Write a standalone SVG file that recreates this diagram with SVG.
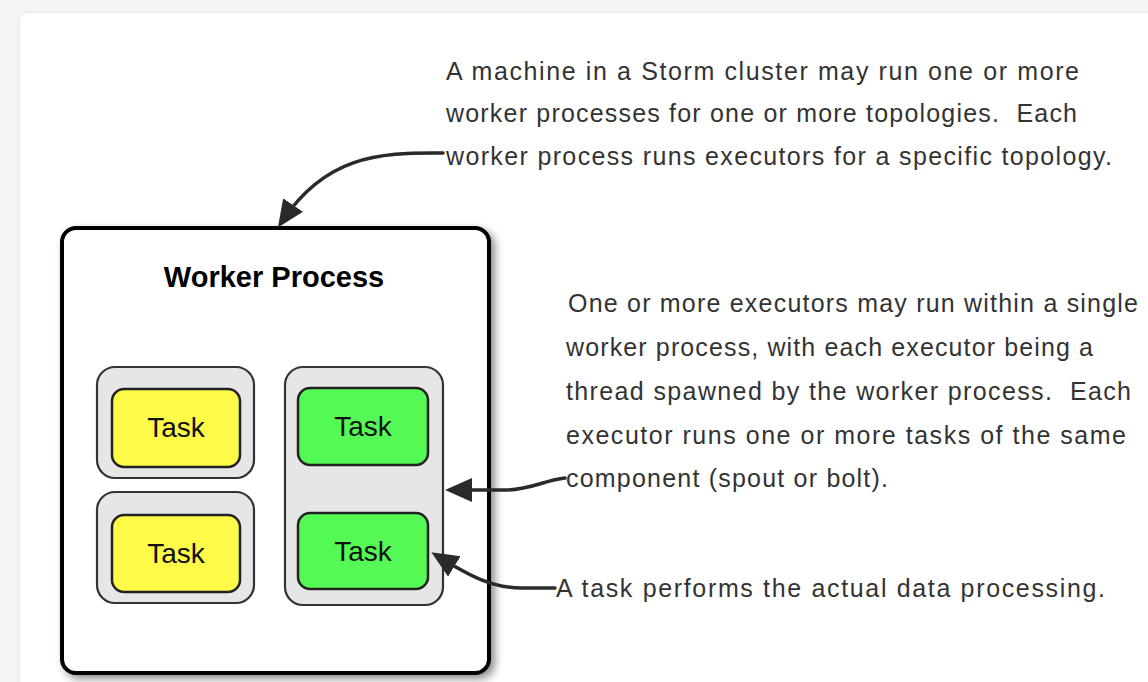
<svg xmlns="http://www.w3.org/2000/svg" width="1148" height="682" viewBox="0 0 1148 682">
<style>
.note{font-family:"Liberation Sans",Arial,sans-serif;font-size:25px;fill:#333;white-space:pre;}
.title{font-family:"Liberation Sans",Arial,sans-serif;font-size:29px;font-weight:bold;fill:#000;text-anchor:middle;}
.task{font-family:"Liberation Sans",Arial,sans-serif;font-size:28px;fill:#111;text-anchor:middle;}
.exec{fill:#e6e6e6;stroke:#333;stroke-width:2.2;}
.ytask{fill:#fdfb48;stroke:#222;stroke-width:2.5;}
.gtask{fill:#55f955;stroke:#222;stroke-width:2.5;}
.conn{fill:none;stroke:#2a2a2a;stroke-width:3.5;stroke-linecap:round;marker-end:url(#arrow);}
</style>
<defs>
<marker id="arrow" markerUnits="userSpaceOnUse" markerWidth="30" markerHeight="26" viewBox="0 0 30 26" refX="18" refY="12" orient="auto">
<path d="M0,0 L27,12 L0,24 z" fill="#2a2a2a"/>
</marker>
<filter id="shadow" x="-10%" y="-10%" width="125%" height="125%">
<feDropShadow dx="4" dy="4" stdDeviation="4" flood-color="#000" flood-opacity="0.45"/>
</filter>
</defs>
<rect x="0" y="0" width="1148" height="682" fill="#f4f4f4"/>
<rect x="19" y="12" width="1160" height="700" rx="10" fill="#ffffff" stroke="#e6e6e6" stroke-width="1"/>

<g id="worker-process">
<rect x="62" y="228" width="427" height="445" rx="14" fill="#ffffff" stroke="#000" stroke-width="4" filter="url(#shadow)"/>
<text class="title" x="274" y="287">Worker Process</text>
</g>

<g id="executor-1">
<rect class="exec" x="97" y="367" width="157" height="111" rx="18"/>
<g id="task-1">
<rect class="ytask" x="112" y="389" width="128" height="78" rx="12"/>
<text class="task" x="176" y="437">Task</text>
</g>
</g>

<g id="executor-2">
<rect class="exec" x="97" y="492" width="157" height="111" rx="18"/>
<g id="task-2">
<rect class="ytask" x="112" y="515" width="128" height="77" rx="12"/>
<text class="task" x="176" y="563">Task</text>
</g>
</g>

<g id="executor-3">
<rect class="exec" x="285" y="367" width="158" height="238" rx="18"/>
<g id="task-3">
<rect class="gtask" x="298" y="388" width="130" height="77" rx="12"/>
<text class="task" x="363" y="436">Task</text>
</g>
<g id="task-4">
<rect class="gtask" x="298" y="513" width="130" height="76" rx="12"/>
<text class="task" x="363" y="561">Task</text>
</g>
</g>

<g id="note-machine">
<text class="note" x="446" y="80" textLength="633" lengthAdjust="spacing">A machine in a Storm cluster may run one or more</text>
<text class="note" x="446" y="122" textLength="631" lengthAdjust="spacing">worker processes for one or more topologies.  Each</text>
<text class="note" x="446" y="165" textLength="666" lengthAdjust="spacing">worker process runs executors for a specific topology.</text>
</g>

<g id="note-executor">
<text class="note" x="568" y="312" textLength="570" lengthAdjust="spacing">One or more executors may run within a single</text>
<text class="note" x="566" y="356" textLength="527" lengthAdjust="spacing">worker process, with each executor being a</text>
<text class="note" x="566" y="400" textLength="565" lengthAdjust="spacing">thread spawned by the worker process.  Each</text>
<text class="note" x="566" y="444" textLength="560" lengthAdjust="spacing">executor runs one or more tasks of the same</text>
<text class="note" x="566" y="487" textLength="322" lengthAdjust="spacing">component (spout or bolt).</text>
</g>

<g id="note-task">
<text class="note" x="556" y="597" textLength="549" lengthAdjust="spacing">A task performs the actual data processing.</text>
</g>

<g id="connectors">
<path class="conn" d="M443 153 C375 152 325 158 283 220"/>
<path class="conn" d="M565 478 C545 480 530 490 505 490 L454 490"/>
<path class="conn" d="M555 588 L522 588 C492 588 470 576 439 557"/>
</g>
</svg>
